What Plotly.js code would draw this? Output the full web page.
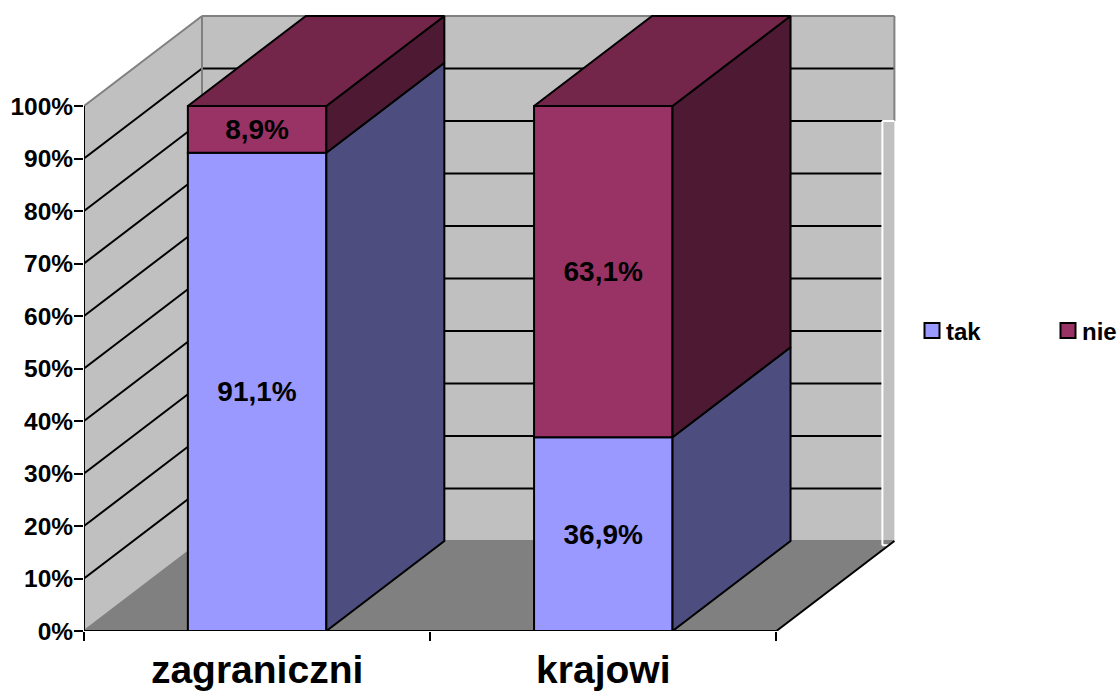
<!DOCTYPE html>
<html>
<head>
<meta charset="utf-8">
<script src="https://cdn.plot.ly/plotly-3.0.1.min.js"></script>
<style>html,body{margin:0;padding:0;background:#fff}#chart{width:1117px;height:691px}</style>
</head>
<body>
<div id="chart"></div>
<script>
const categories = ['zagraniczni', 'krajowi'];
const takValues = [91.1, 36.9];
const nieValues = [8.9, 63.1];
const yTicks = [0, 10, 20, 30, 40, 50, 60, 70, 80, 90, 100];
const yTickLabels = ['0%', '10%', '20%', '30%', '40%', '50%', '60%', '70%', '80%', '90%', '100%'];

// 3D look: depth expressed in axis units
const unitPx = 346.2;
const depthX = 118 / unitPx, depthY = 17.14;
const barWidth = 0.4;
const xStart = -0.5, xEnd = 1.5;
const wallRight = xEnd + depthX;
const stripLeft = wallRight - 12 / unitPx;
const FONT = '"Liberation Sans", Arial, sans-serif';
const colors = {
  tak: '#9999FF', takSide: '#4D4D80',
  nie: '#993366', nieSide: '#4D1933', nieTop: '#732649',
  wall: '#C0C0C0', floor: '#808080', edge: '#808080'
};

function path(pts) {
  return 'M' + pts.map(p => p[0] + ',' + p[1]).join('L') + 'Z';
}
function seg(x0, y0, x1, y1, color, width) {
  return {type: 'line', xref: 'x', yref: 'y', layer: 'below', x0, y0, x1, y1, line: {color, width}};
}
function poly(pts, fill) {
  return {type: 'path', xref: 'x', yref: 'y', layer: 'below', path: path(pts), fillcolor: fill, line: {width: 0}};
}

const backLeft = xStart + depthX;
const shapes = [
  poly([[xStart, 0], [backLeft, depthY], [backLeft, 100 + depthY], [xStart, 100]], colors.wall),
  poly([[backLeft, depthY], [wallRight, depthY], [wallRight, 100 + depthY], [backLeft, 100 + depthY]], colors.wall),
  poly([[xStart, 0], [xEnd, 0], [wallRight, depthY], [backLeft, depthY]], colors.floor)
];
yTicks.forEach(v => {
  const isEdge = v === 0 || v === 100;
  const c = isEdge ? colors.edge : '#000000';
  shapes.push(seg(xStart, v, backLeft, v + depthY, c, 2));
  const right = v > 80 ? wallRight : stripLeft;
  shapes.push(seg(backLeft, v + depthY, isEdge ? wallRight : right, v + depthY, c, 2));
});
shapes.push(seg(backLeft, depthY, backLeft, 100 + depthY, colors.edge, 2));
shapes.push(seg(wallRight, 80 + depthY, wallRight, 100 + depthY, colors.edge, 2));
// white frame left by the legend box
shapes.push(seg(stripLeft, 80 + depthY, wallRight, 80 + depthY, '#FFFFFF', 2));
shapes.push(seg(stripLeft, 80 + depthY, stripLeft, depthY - 0.8, '#FFFFFF', 2));
shapes.push(seg(stripLeft, depthY - 0.8, wallRight - 0.015, depthY - 0.8, '#FFFFFF', 2));

function face(pts, fill) {
  return {
    type: 'scatter', mode: 'lines', x: pts.map(p => p[0]), y: pts.map(p => p[1]),
    fill: 'toself', fillcolor: fill, line: {color: '#000', width: 2},
    hoverinfo: 'skip', showlegend: false, cliponaxis: false
  };
}

const traces = [];
const idx = categories.map((_, i) => i);
const labelFont = {family: FONT, size: 28, color: '#000', weight: 'bold'};

function barTrace(values, color, base) {
  return {
    type: 'bar', x: idx, y: values, base: base, width: barWidth,
    marker: {color: color, line: {color: '#000', width: 2}},
    texttemplate: '%{y:.1f}%', textposition: 'inside', insidetextanchor: 'middle',
    textangle: 0, constraintext: 'none', insidetextfont: labelFont,
    hoverinfo: 'skip', showlegend: false, cliponaxis: false
  };
}
traces.push(barTrace(takValues, colors.tak, 0));
traces.push(barTrace(nieValues, colors.nie, takValues));

idx.forEach(i => {
  const r = i + barWidth / 2, l = i - barWidth / 2;
  const t = takValues[i], top = takValues[i] + nieValues[i];
  traces.push(face([[r, 0], [r + depthX, depthY], [r + depthX, t + depthY], [r, t], [r, 0]], colors.takSide));
  traces.push(face([[r, t], [r + depthX, t + depthY], [r + depthX, top + depthY], [r, top], [r, t]], colors.nieSide));
  traces.push(face([[l, top], [l + depthX, top + depthY], [r + depthX, top + depthY], [r, top], [l, top]], colors.nieTop));
});

function axisEdge(xs, ys, color) {
  return {type: 'scatter', mode: 'lines', x: xs, y: ys, line: {color, width: 2},
          hoverinfo: 'skip', showlegend: false, cliponaxis: false};
}
traces.push(axisEdge([xStart, xStart], [0, 100], '#000'));
traces.push(axisEdge([xEnd, wallRight], [0, depthY], '#000'));
traces.push(axisEdge([xStart, xEnd], [0, 0], '#000'));

[['tak', colors.tak], ['nie', colors.nie]].forEach(([name, color]) => {
  traces.push({
    type: 'scatter', mode: 'markers', name: name, x: [null], y: [null],
    marker: {symbol: 'square', size: 15, color: color, line: {color: '#000', width: 2}},
    hoverinfo: 'skip'
  });
});

const layout = {
  width: 1117, height: 691,
  margin: {l: 84, r: 212, t: 11, b: 60, autoexpand: false},
  paper_bgcolor: '#fff', plot_bgcolor: '#fff',
  separators: ', ',
  barmode: 'overlay',
  shapes: shapes,
  xaxis: {
    type: 'linear', range: [xStart, xStart + 821 / unitPx],
    tickmode: 'array', tickvals: idx, ticktext: categories,
    ticks: '', showgrid: false, zeroline: false, showline: false,
    tickfont: {family: FONT, size: 39, color: '#000', weight: 'bold'},
    ticklabelstandoff: 12,
    minor: {tickmode: 'array', tickvals: [-0.5, 0.5, 1.5], ticks: 'outside', ticklen: 9, tickwidth: 2, tickcolor: '#000', showgrid: false}
  },
  yaxis: {
    range: [0, 620 / 5.25],
    tickmode: 'array', tickvals: yTicks, ticktext: yTickLabels,
    ticks: 'outside', ticklen: 9, tickwidth: 2, tickcolor: '#000',
    ticklabelstandoff: -4,
    showgrid: false, zeroline: false, showline: false,
    tickfont: {family: FONT, size: 24.5, color: '#000', weight: 'bold'}
  },
  legend: {
    orientation: 'h', xref: 'container', yref: 'container',
    x: 912 / 1117, y: 1 - 331 / 691, xanchor: 'left', yanchor: 'middle',
    entrywidth: 91, entrywidthmode: 'pixels', itemclick: false, itemdoubleclick: false,
    bgcolor: 'rgba(0,0,0,0)', font: {family: FONT, size: 24, color: '#000', weight: 'bold'}
  },
  font: {family: FONT, color: '#000'},
  showlegend: true
};
Plotly.newPlot('chart', traces, layout, {displayModeBar: false, staticPlot: true}).then(() => {
  // reference legend keeps its labels closer to the keys
  document.querySelectorAll('.legendtext').forEach(t => t.setAttribute('x', 34));
});
</script>
</body>
</html>
